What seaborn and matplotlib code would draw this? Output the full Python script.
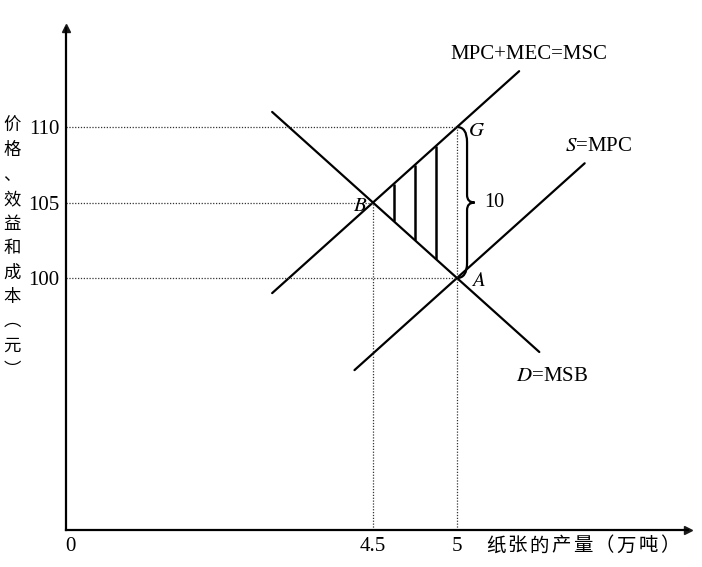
import numpy as np
import pandas as pd
import matplotlib
matplotlib.use("Agg")
import matplotlib.pyplot as plt
import seaborn as sns
from matplotlib.path import Path
from matplotlib.patches import PathPatch

# curve endpoints (quantity, price)
demand_q = [3.90, 5.49]
demand_p = [111.0, 95.1]
msc_q = [3.90, 5.37]
msc_p = [99.0, 113.7]
supply_q = [4.39, 5.76]
supply_p = [93.9, 107.6]

# key points
point_names = ["B", "A", "G"]
point_q = [4.5, 5.0, 5.0]
point_p = [105, 100, 110]

# vertical hatch lines between D and MSC
hatch_q = [4.625, 4.75, 4.875]

x_ticks = [4.5, 5]
x_tick_labels = ["4.5", "5"]
y_ticks = [100, 105, 110]
y_tick_labels = ["100", "105", "110"]

ylabel_chars = ["价", "格", "、", "效", "益", "和", "成", "本", "︵", "元", "︶"]
xlabel_chars = ["纸", "张", "的", "产", "量", "（", "万", "吨", "）"]

sns.set_theme(style="white")
plt.rcParams["font.family"] = ["Liberation Serif", "Noto Sans CJK SC", "DejaVu Sans"]
plt.rcParams["mathtext.fontset"] = "stix"
plt.rcParams["text.color"] = "black"
plt.rcParams["xtick.color"] = "black"
plt.rcParams["ytick.color"] = "black"
cjk = ["Noto Sans CJK SC", "DejaVu Sans"]

df = pd.concat([
    pd.DataFrame({"q": demand_q, "p": demand_p, "curve": "D"}),
    pd.DataFrame({"q": msc_q, "p": msc_p, "curve": "MSC"}),
    pd.DataFrame({"q": supply_q, "p": supply_p, "curve": "S"}),
])

fig = plt.figure(figsize=(7.02, 5.67), dpi=100)
ax = fig.add_axes([66 / 702, 37 / 567, 622 / 702, 502 / 567])

for name, grp in df.groupby("curve"):
    sns.lineplot(data=grp, x="q", y="p", ax=ax, color="black", lw=1.6, sort=True)

ax.set_xlim(2.673, 6.375)
ax.set_ylim(83.31, 116.56)

# dotted guides
pts = dict(zip(point_names, zip(point_q, point_p)))
dot = dict(color="#333333", lw=0.9, ls=(0, (1, 1.3)))
for n in point_names:
    q, p = pts[n]
    ax.plot([ax.get_xlim()[0], q], [p, p], **dot)
ax.plot([4.5, 4.5], [ax.get_ylim()[0], 105], **dot)
ax.plot([5.0, 5.0], [ax.get_ylim()[0], 110], **dot)

# hatching
lo = np.interp(hatch_q, demand_q, demand_p)
hi = np.interp(hatch_q, msc_q, msc_p)
ax.vlines(hatch_q, lo, hi, color="black", lw=1.8)

# brace between G and A
x0, gq = 5.06, pts["G"][0]
top, bot = pts["G"][1], pts["A"][1]
mid = (top + bot) / 2
verts = [(gq, top), (x0, top), (x0, top - 1.0),
         (x0, mid + 0.5),
         (x0, mid), (x0 + 0.045, mid),
         (x0, mid), (x0, mid - 0.5),
         (x0, bot + 1.0),
         (x0, bot), (gq, bot)]
codes = [Path.MOVETO, Path.CURVE3, Path.CURVE3, Path.LINETO,
         Path.CURVE3, Path.CURVE3, Path.CURVE3, Path.CURVE3,
         Path.LINETO, Path.CURVE3, Path.CURVE3]
ax.add_patch(PathPatch(Path(verts, codes), fill=False, lw=1.6, color="black"))
ax.text(x0 + 0.1, mid, "10", fontsize=14.5, va="center", ha="left")

# point labels
ax.text(4.5 - 0.035, 104.75, r"$B$", fontsize=15, ha="right", va="center")
ax.text(5.0 + 0.085, 100.4, r"$A$", fontsize=15, ha="left", va="top")
ax.text(5.0 + 0.065, 109.7, r"$G$", fontsize=15, ha="left", va="center")

# curve labels
ax.text(5.43, 114.15, "MPC+MEC=MSC", fontsize=15, ha="center", va="bottom")
ax.text(5.84, 108.05, r"$S$=MPC", fontsize=15, ha="center", va="bottom")
ax.text(5.565, 94.1, r"$D$=MSB", fontsize=15, ha="center", va="top")

# axes styling
sns.despine(ax=ax)
for s in ["left", "bottom"]:
    ax.spines[s].set_color("black")
    ax.spines[s].set_linewidth(1.6)
ax.plot(1, 0, ">k", transform=ax.transAxes, clip_on=False, ms=6)
ax.plot(0, 1, "^k", transform=ax.transAxes, clip_on=False, ms=6)
ax.set_xticks(x_ticks, x_tick_labels, fontsize=15)
ax.set_yticks(y_ticks, y_tick_labels, fontsize=15)
ax.tick_params(length=0, pad=5)
ax.set_xlabel("")
ax.set_ylabel("")
ax.annotate("0", xy=(0, 0), xycoords="axes fraction", xytext=(3, -5),
            textcoords="offset points", ha="center", va="top", fontsize=15)

for i, ch in enumerate(xlabel_chars):
    fig.text((495.5 + i * 21.8) / 702, 1 - 546 / 567, ch, ha="center", va="center",
             fontsize=14, family=cjk)

for i, ch in enumerate(ylabel_chars):
    fig.text(12 / 702, 1 - (126 + i * 24.4) / 567, ch, ha="center", va="center",
             fontsize=12.5, family=cjk)

fig.savefig("out.png", dpi=100)
